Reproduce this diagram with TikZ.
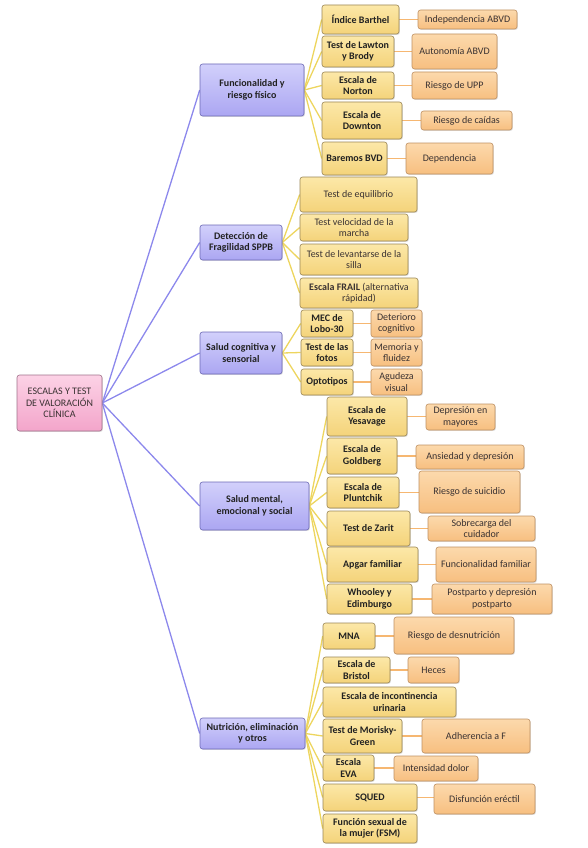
\documentclass[tikz,border=0pt]{standalone}
\usepackage{fontspec}
\setmainfont{Carlito}
\usetikzlibrary{shadows}
\definecolor{rootT}{HTML}{FCD2E6}
\definecolor{rootF}{HTML}{F3A5CA}
\definecolor{rootB}{HTML}{A0718A}
\definecolor{catT}{HTML}{D2D0FB}
\definecolor{catF}{HTML}{ABA6F2}
\definecolor{catB}{HTML}{6C69B5}
\definecolor{chT}{HTML}{FCE8A8}
\definecolor{chF}{HTML}{F4D37A}
\definecolor{chB}{HTML}{9A8656}
\definecolor{deT}{HTML}{FCD9AC}
\definecolor{deF}{HTML}{F7BF80}
\definecolor{deB}{HTML}{BE9062}
\definecolor{blueL}{HTML}{8C88EC}
\definecolor{yelL}{HTML}{EDD55E}
\definecolor{oraL}{HTML}{F6B771}
\definecolor{txt}{HTML}{222222}
\definecolor{txt2}{HTML}{3A3232}
\pgfdeclarelayer{bg}
\pgfsetlayers{bg,main}
\tikzset{
  boxbase/.style={draw, line width=0.6pt, rounded corners=2.5pt, align=center,
    inner xsep=1pt, inner ysep=1pt,
    drop shadow={shadow xshift=0.9pt, shadow yshift=-0.9pt, opacity=0.25},
    font=\fontsize{10}{11.5}\selectfont},
  rootbox/.style={boxbase, draw=rootB, top color=rootT, bottom color=rootF, text=txt2},
  catbox/.style={boxbase, draw=catB, top color=catT, bottom color=catF, text=txt, font=\fontsize{10}{11.5}\selectfont\bfseries},
  chbox/.style={boxbase, draw=chB, top color=chT, bottom color=chF, text=txt, font=\fontsize{10}{11.5}\selectfont\bfseries},
  chreg/.style={boxbase, draw=chB, top color=chT, bottom color=chF, text=txt2},
  debox/.style={boxbase, draw=deB, top color=deT, bottom color=deF, text=txt2},
  blink/.style={draw=blueL, line width=1.3pt},
  ylink/.style={draw=yelL, line width=1.3pt},
  olink/.style={draw=oraL, line width=1.3pt},
}
\newcommand{\bx}[7]{\pgfmathsetmacro\mytw{#5}\pgfmathsetmacro\myh{#6}%
  \node[#1, minimum width=\mytw pt, minimum height=\myh pt] (#2) at (#3,#4) {#7};}
\begin{document}
\begin{tikzpicture}[x=1pt,y=-1pt]
\useasboundingbox (0,0) rectangle (587,848);
% root
\bx{rootbox}{root}{59.5}{403}{85}{56}{ESCALAS Y TEST\\ DE VALORACIÓN\\ CLÍNICA}
% categories
\bx{catbox}{fun}{252}{90}{104}{52}{Funcionalidad y\\ riesgo físico}
\bx{catbox}{det}{241}{242.5}{82}{35}{Detección de\\ Fragilidad SPPB}
\bx{catbox}{cog}{241}{353}{82}{42}{Salud cognitiva y\\ sensorial}
\bx{catbox}{men}{254.5}{506}{109}{48}{Salud mental,\\ emocional y social}
\bx{catbox}{nut}{252.5}{733.5}{105}{31}{Nutrición, eliminación\\ y otros}
% children
\bx{chbox}{bar}{360.5}{19.5}{77}{29}{Índice Barthel}
\bx{chbox}{law}{358}{51.5}{72}{31}{Test de Lawton\\ y Brody}
\bx{chbox}{nor}{358}{85.5}{72}{27}{Escala de\\ Norton}
\bx{chbox}{dow}{362}{120.5}{80}{37}{Escala de\\ Downton}
\bx{chbox}{bvd}{354.5}{158.5}{65}{33}{Baremos BVD}
\bx{chreg}{equ}{358.5}{194.5}{117}{35}{Test de equilibrio}
\bx{chreg}{vel}{354}{227.5}{108}{27}{Test velocidad de la\\ marcha}
\bx{chreg}{lev}{354}{259.5}{108}{31}{Test de levantarse de la\\ silla}
\bx{chreg}{fra}{359}{293}{118}{30}{\textbf{Escala FRAIL} (alternativa\\ rápidad)}
\bx{chbox}{mec}{327}{323.5}{52}{27}{MEC de\\ Lobo-30}
\bx{chbox}{fot}{327}{352.5}{52}{27}{Test de las\\ fotos}
\bx{chbox}{opt}{327}{382}{52}{26}{Optotipos}
\bx{chbox}{yes}{367}{416.5}{80}{39}{Escala de\\ Yesavage}
\bx{chbox}{gol}{362}{456}{70}{36}{Escala de\\ Goldberg}
\bx{chbox}{plu}{363}{492.5}{72}{31}{Escala de\\ Pluntchik}
\bx{chbox}{zar}{368.5}{528.5}{83}{35}{Test de Zarit}
\bx{chbox}{apg}{372.5}{564.5}{91}{35}{Apgar familiar}
\bx{chbox}{who}{369.5}{599}{85}{30}{Whooley y\\ Edimburgo}
\bx{chbox}{mna}{349}{636}{52}{26}{MNA}
\bx{chbox}{bri}{356.5}{670}{67}{26}{Escala de\\ Bristol}
\bx{chbox}{inc}{389.5}{702}{133}{30}{Escala de incontinencia\\ urinaria}
\bx{chbox}{mor}{362.5}{736}{79}{34}{Test de Morisky-\\ Green}
\bx{chbox}{eva}{348.5}{768}{51}{26}{Escala\\ EVA}
\bx{chbox}{squ}{370}{797.5}{94}{27}{SQUED}
\bx{chbox}{fsm}{370}{828.5}{94}{29}{Función sexual de\\ la mujer (FSM)}
% descriptors
\bx{debox}{dbar}{467.5}{19.5}{99}{19}{Independencia ABVD}
\bx{debox}{dlaw}{454.5}{51.5}{85}{35}{Autonomía ABVD}
\bx{debox}{dnor}{454.5}{85.5}{85}{27}{Riesgo de UPP}
\bx{debox}{ddow}{466.5}{120.5}{91}{19}{Riesgo de caídas}
\bx{debox}{dbvd}{449.5}{158.5}{87}{31}{Dependencia}
\bx{debox}{dmec}{396.5}{323.5}{51}{27}{Deterioro\\ cognitivo}
\bx{debox}{dfot}{396.5}{352.5}{51}{27}{Memoria y\\ fluidez}
\bx{debox}{dopt}{396.5}{382}{51}{26}{Agudeza\\ visual}
\bx{debox}{dyes}{460.5}{417}{69}{26}{Depresión en\\ mayores}
\bx{debox}{dgol}{470}{457}{108}{24}{Ansiedad y depresión}
\bx{debox}{dplu}{469.5}{492}{101}{42}{Riesgo de suicidio}
\bx{debox}{dzar}{481.5}{528.5}{107}{25}{Sobrecarga del\\ cuidador}
\bx{debox}{dapg}{486}{564.5}{100}{35}{Funcionalidad familiar}
\bx{debox}{dwho}{492}{599}{120}{30}{Postparto y depresión\\ postparto}
\bx{debox}{dmna}{454}{635.5}{120}{37}{Riesgo de desnutrición}
\bx{debox}{dbri}{433.5}{670}{51}{26}{Heces}
\bx{debox}{dmor}{476}{736}{108}{34}{Adherencia a F}
\bx{debox}{deva}{436}{768.5}{84}{25}{Intensidad dolor}
\bx{debox}{dsqu}{484.5}{799}{101}{30}{Disfunción eréctil}
% connectors
\begin{pgfonlayer}{bg}
\foreach \c in {fun,det,cog,men,nut} \draw[blink] (root.east) -- (\c.west);
\foreach \c in {bar,law,nor,dow,bvd} \draw[ylink] (fun.east) -- (\c.west);
\foreach \c in {equ,vel,lev,fra} \draw[ylink] (det.east) -- (\c.west);
\foreach \c in {mec,fot,opt} \draw[ylink] (cog.east) -- (\c.west);
\foreach \c in {yes,gol,plu,zar,apg,who} \draw[ylink] (men.east) -- (\c.west);
\foreach \c in {mna,bri,inc,mor,eva,squ,fsm} \draw[ylink] (nut.east) -- (\c.west);
\foreach \a/\b in {bar/dbar,law/dlaw,nor/dnor,dow/ddow,bvd/dbvd,mec/dmec,fot/dfot,opt/dopt,yes/dyes,gol/dgol,plu/dplu,zar/dzar,apg/dapg,who/dwho,mna/dmna,bri/dbri,mor/dmor,eva/deva,squ/dsqu}
  \draw[olink] (\a.east) -- (\a.east -| \b.west);
\end{pgfonlayer}
\end{tikzpicture}
\end{document}
